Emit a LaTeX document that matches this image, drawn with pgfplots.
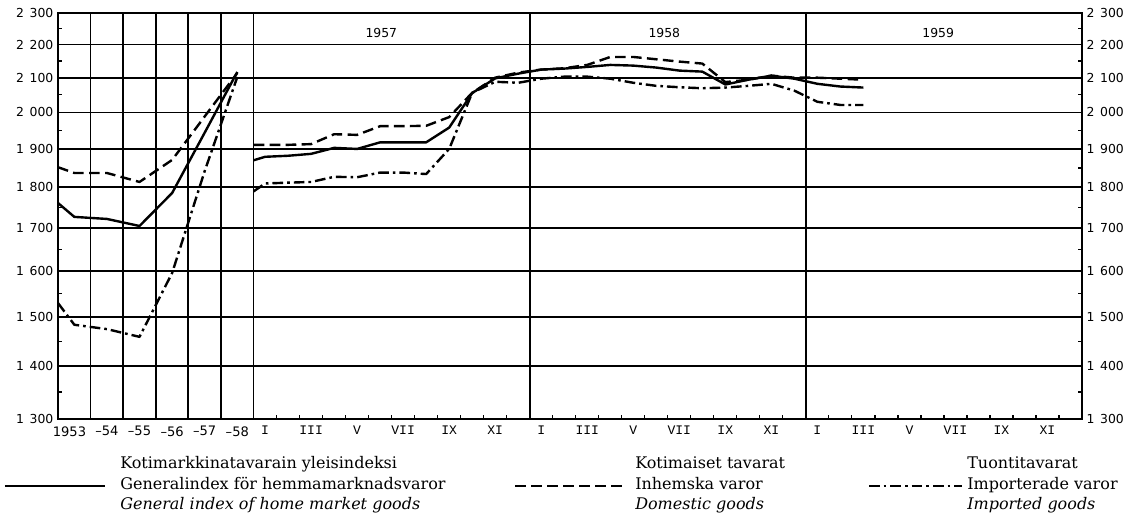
\documentclass[border=0pt]{standalone}
\usepackage{fontspec}
\setmainfont{DejaVu Serif}
\setsansfont{DejaVu Sans}
\setmonofont{Liberation Mono}
\usepackage{pgfplots}
\pgfplotsset{compat=1.18}
\newcommand{\hs}{\hspace{0.45em}}
\begin{document}
\begin{tikzpicture}
\begin{axis}[
  at={(0,0)}, anchor=south west, scale only axis,
  width=768pt, height=304.5pt,
  xmin=-8.5, xmax=36, ymin=1300, ymax=2300, ymode=log,
  ytick={1300,1400,1500,1600,1700,1800,1900,2000,2100,2200,2300},
  yticklabels={1\hs300,1\hs400,1\hs500,1\hs600,1\hs700,1\hs800,1\hs900,2\hs000,2\hs100,2\hs200,2\hs300},
  yticklabel style={font=\sffamily\fontsize{9.3}{10}\selectfont},
  axis line style={line width=1.4pt},
  xmajorgrids=true, ymajorgrids=true,
  major grid style={black, line width=1.35pt},
  minor ytick={1350,1450,1550,1650,1750,1850,1950,2050,2150,2250},
  major tick length=0pt, minor tick length=3pt,
  tick style={black, line width=0.9pt},
  xtick pos=bottom,
  yticklabel pos=left,
  xtick={-7.0833,-5.6667,-4.25,-2.8333,-1.4167,0.0001,12,24},
  xticklabels={},
  minor xtick={1,2,3,4,5,6,7,8,9,10,11,13,14,15,16,17,18,19,20,21,22,23,25,26,27,28,29,30,31,32,33,34,35},
  extra x ticks={-8.0,-6.375,-4.958,-3.54,-2.125,-0.708,0.5,2.5,4.5,6.5,8.5,10.5,12.5,14.5,16.5,18.5,20.5,22.5,24.5,26.5,28.5,30.5,32.5,34.5},
  extra x tick labels={{\sffamily 1953},{\sffamily --54},{\sffamily --55},{\sffamily --56},{\sffamily --57},{\sffamily --58},I,III,V,VII,IX,XI,I,III,V,VII,IX,XI,I,III,V,VII,IX,XI},
  extra x tick style={xmajorgrids=false, major tick length=0pt},
  xticklabel style={font=\ttfamily\fontsize{9.8}{11}\selectfont, yshift=-2pt},
]
\draw[black, line width=1.35pt] (axis cs:0,1300) -- (axis cs:0,2300);
% annual section
\addplot[black, line width=1.8pt, line join=round] coordinates {(-8.5,1761) (-7.79,1727) (-6.375,1722) (-4.958,1705) (-3.54,1786) (-2.125,1944) (-0.708,2117)};
\addplot[black, line width=1.8pt, line join=round, dash pattern=on 8pt off 4pt] coordinates {(-8.5,1852) (-7.79,1837) (-6.375,1837) (-4.958,1814) (-3.54,1871) (-2.125,1989) (-0.708,2114)};
\addplot[black, line width=1.8pt, line join=round, dash pattern=on 8pt off 3pt on 2pt off 3pt] coordinates {(-8.5,1530) (-7.79,1484) (-6.375,1475) (-4.958,1459) (-3.54,1596) (-2.125,1842) (-0.708,2102)};
% monthly section
\addplot[black, line width=1.8pt, line join=round] coordinates {(0,1870) (0.5,1879) (1.5,1882) (2.5,1887) (3.5,1903) (4.5,1900) (5.5,1918) (6.5,1918) (7.5,1918) (8.5,1958) (9.5,2055) (10.5,2098) (11.5,2112) (12.5,2124) (13.5,2127) (14.5,2132) (15.5,2138) (16.5,2136) (17.5,2130) (18.5,2121) (19.5,2118) (20.5,2080) (21.5,2094) (22.5,2106) (23.5,2097) (24.5,2082) (25.5,2074) (26.5,2071)};
\addplot[black, line width=1.8pt, line join=round, dash pattern=on 8pt off 4pt] coordinates {(0,1911) (0.5,1911) (1.5,1911) (2.5,1913) (3.5,1940) (4.5,1938) (5.5,1962) (6.5,1962) (7.5,1963) (8.5,1987) (9.5,2056) (10.5,2100) (11.5,2115) (12.5,2124) (13.5,2128) (14.5,2138) (15.5,2162) (16.5,2162) (17.5,2155) (18.5,2148) (19.5,2142) (20.5,2087) (21.5,2094) (22.5,2106) (23.5,2100) (24.5,2100) (25.5,2097) (26.5,2094)};
\addplot[black, line width=1.8pt, line join=round, dash pattern=on 8pt off 3pt on 2pt off 3pt] coordinates {(0,1790) (0.5,1810) (1.5,1812) (2.5,1814) (3.5,1827) (4.5,1826) (5.5,1838) (6.5,1838) (7.5,1834) (8.5,1900) (9.5,2056) (10.5,2088) (11.5,2085) (12.5,2097) (13.5,2103) (14.5,2103) (15.5,2097) (16.5,2085) (17.5,2076) (18.5,2072) (19.5,2069) (20.5,2071) (21.5,2076) (22.5,2082) (23.5,2062) (24.5,2030) (25.5,2021) (26.5,2021)};
\node[font=\sffamily\fontsize{9.3}{10}\selectfont] at (axis cs:5.55,2236) {1957};
\node[font=\sffamily\fontsize{9.3}{10}\selectfont] at (axis cs:17.85,2236) {1958};
\node[font=\sffamily\fontsize{9.3}{10}\selectfont] at (axis cs:29.75,2236) {1959};
\end{axis}
\begin{axis}[
  at={(0,0)}, anchor=south west, scale only axis,
  width=768pt, height=304.5pt,
  xmin=-8.5, xmax=36, ymin=1300, ymax=2300, ymode=log,
  ytick={1300,1400,1500,1600,1700,1800,1900,2000,2100,2200,2300},
  yticklabels={1\hs300,1\hs400,1\hs500,1\hs600,1\hs700,1\hs800,1\hs900,2\hs000,2\hs100,2\hs200,2\hs300},
  yticklabel style={font=\sffamily\fontsize{9.3}{10}\selectfont},
  yticklabel pos=right,
  xtick=\empty,
  axis line style={draw=none},
  major tick length=0pt,
]
\end{axis}
\begin{scope}[x=0.75pt,y=0.75pt]
\path (-58,-97) rectangle (1088,419);
\draw[line width=1.8pt] (-53,-67) -- (47,-67);
\draw[line width=1.8pt, dash pattern=on 8pt off 4pt] (457,-67) -- (565,-67);
\draw[line width=1.8pt, dash pattern=on 8pt off 3pt on 2pt off 3pt] (811,-67) -- (904,-67);
\begin{scope}[every node/.style={anchor=mid west, inner sep=0pt, font=\fontsize{12}{14}\selectfont}]
\node at (62,-46) {Kotimarkkinatavarain yleisindeksi};
\node at (62,-67) {Generalindex för hemmamarknadsvaror};
\node at (62,-87) {\itshape General index of home market goods};
\node at (577,-46) {Kotimaiset tavarat};
\node at (577,-67) {Inhemska varor};
\node at (577,-87) {\itshape Domestic goods};
\node at (909,-46) {Tuontitavarat};
\node at (909,-67) {Importerade varor};
\node at (909,-87) {\itshape Imported goods};
\end{scope}
\end{scope}
\end{tikzpicture}
\end{document}
